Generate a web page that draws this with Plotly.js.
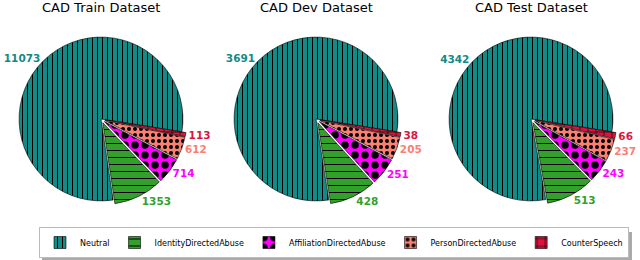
<!DOCTYPE html>
<html>
<head>
<meta charset="utf-8">
<script src="https://cdn.plot.ly/plotly-3.0.1.min.js"></script>
<style>html,body{margin:0;padding:0;background:#fff;}#chart{width:640px;height:260px;}</style>
</head>
<body>
<div id="chart"></div>
<script>
const categories = ["Neutral", "IdentityDirectedAbuse", "AffiliationDirectedAbuse", "PersonDirectedAbuse", "CounterSpeech"];
const trainValues = [11073, 1353, 714, 612, 113];
const devValues = [3691, 428, 251, 205, 38];
const testValues = [4342, 513, 243, 237, 66];
const datasetTitles = ["CAD Train Dataset", "CAD Dev Dataset", "CAD Test Dataset"];

const colors = ["#138a86", "#33a02c", "#ff00ff", "#fa8072", "#dc143c"];
const pulls = [0, 0.05, 0.05, 0.05, 0.05];
const patternShapes = ["|", "-", ".", ".", "+"];
const patternSizes = [5, 7, 10, 6, 8];
const patternSolid = [0.2, 0.15, 0.45, 0.35, 0.15];

const W = 640, H = 260;
const centersX = [101, 316, 531];
const centerY = 119;
const halfSize = 86;
const startAngle = 99; // first slice starts 9 degrees below 3 o'clock, going counterclockwise

function makePie(vals, i) {
  const cx = centersX[i];
  const total = vals.reduce((a, b) => a + b, 0);
  // Plotly's counterclockwise mode puts the end of the first slice at `rotation`
  const rot = startAngle - 360 * vals[0] / total + 360;
  return {
    type: "pie",
    labels: categories,
    values: vals,
    sort: false,
    direction: "counterclockwise",
    rotation: rot,
    pull: pulls,
    texttemplate: "%{value:d}",
    textposition: "outside",
    textfont: {family: "DejaVu Sans", size: 10.5, weight: "bold", color: colors},
    marker: {
      colors: colors,
      line: {color: "#000", width: 0.6},
      pattern: {shape: patternShapes, fgcolor: "#000", bgcolor: colors, size: patternSizes, solidity: patternSolid, fillmode: "replace"}
    },
    domain: {x: [(cx - halfSize) / W, (cx + halfSize) / W], y: [(H - centerY - halfSize) / H, (H - centerY + halfSize) / H]},
    showlegend: i === 0,
    hoverinfo: "label+value"
  };
}

const data = [makePie(trainValues, 0), makePie(devValues, 1), makePie(testValues, 2)];

const annotations = datasetTitles.map((t, i) => ({
  text: t, xref: "paper", yref: "paper", x: centersX[i] / W, y: 1, xanchor: "center", yanchor: "top",
  yshift: 2, showarrow: false, font: {family: "DejaVu Sans", size: 13, color: "#000", weight: "normal"}
}));

const layout = {
  width: W, height: H,
  margin: {l: 0, r: 0, t: 0, b: 0},
  paper_bgcolor: "#fff",
  font: {family: "DejaVu Sans", size: 8, color: "#000"},
  annotations: annotations,
  legend: {
    orientation: "h", x: 334 / W, xanchor: "center", y: 2 / H, yanchor: "bottom",
    bordercolor: "#bbb", borderwidth: 1, bgcolor: "#fff",
    font: {family: "DejaVu Sans", size: 8}, itemwidth: 30, traceorder: "normal"
  },
  shapes: [{type: "rect", xref: "paper", yref: "paper", x0: 42 / W, x1: 632 / W, y0: 0 / H, y1: 28 / H, fillcolor: "#aaa", line: {width: 0}, layer: "below"}]
};

Plotly.newPlot("chart", data, layout, {staticPlot: true, displayModeBar: false});
</script>
</body>
</html>
